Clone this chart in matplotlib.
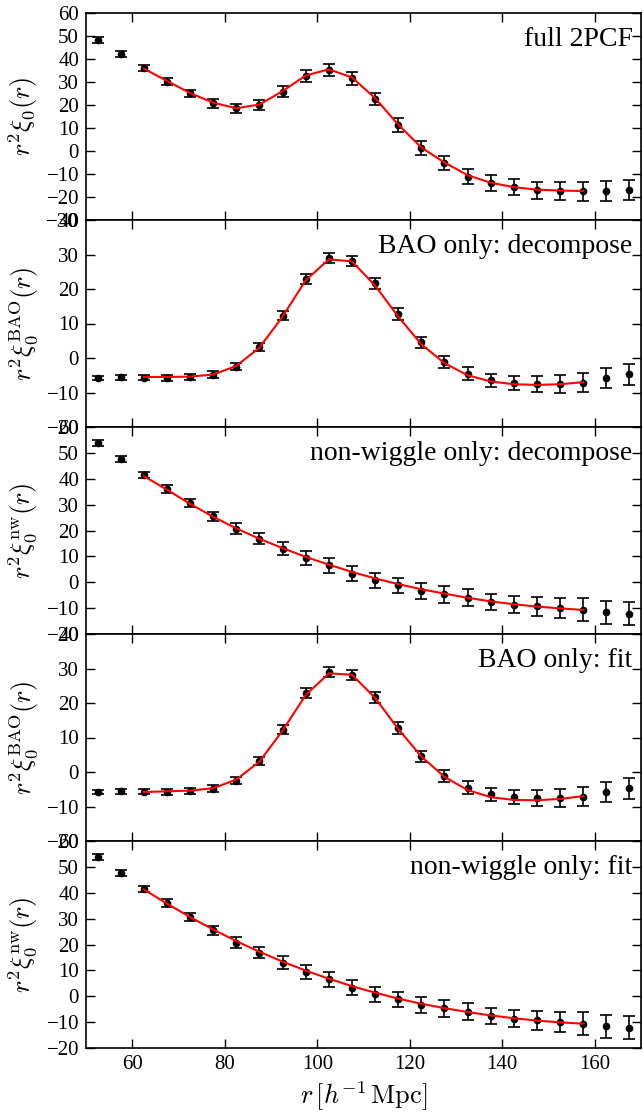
import matplotlib
matplotlib.use("Agg")
import matplotlib.pyplot as plt
from matplotlib.ticker import MultipleLocator

plt.rcParams['font.family'] = ['Liberation Serif', 'DejaVu Serif']
plt.rcParams['mathtext.fontset'] = 'cm'

# separation bins (h^-1 Mpc)
r_data = [52.5, 57.5, 62.5, 67.5, 72.5, 77.5, 82.5, 87.5, 92.5, 97.5, 102.5, 107.5,
          112.5, 117.5, 122.5, 127.5, 132.5, 137.5, 142.5, 147.5, 152.5, 157.5, 162.5, 167.5]
r_model = r_data[2:22]

# full 2PCF
full_data = [48.3, 42.0, 36.0, 30.1, 25.1, 20.7, 18.6, 20.0, 25.8, 32.6, 35.2, 31.6,
             22.6, 11.3, 1.2, -5.3, -11.2, -13.8, -15.8, -17.0, -17.4, -17.5, -17.3, -17.0]
full_err = [1.3, 1.3, 1.4, 1.5, 1.6, 1.8, 2.0, 2.1, 2.3, 2.5, 2.7, 2.7,
            2.8, 2.9, 3.0, 3.1, 3.2, 3.4, 3.5, 3.7, 3.9, 4.1, 4.3, 4.5]
full_model = [35.8, 30.5, 25.2, 21.0, 18.6, 20.2, 26.0, 32.8, 35.5, 32.0,
              23.0, 11.5, 1.5, -5.0, -10.5, -13.8, -15.7, -16.8, -17.2, -17.4]

# BAO part (same data in decompose and fit panels)
bao_data = [-5.8, -5.6, -5.7, -5.8, -5.6, -4.8, -2.5, 3.2, 12.3, 22.9, 28.9, 28.1,
            21.6, 12.8, 4.5, -1.1, -4.5, -6.4, -7.2, -7.5, -7.5, -7.2, -5.9, -4.7]
bao_err = [0.7, 0.7, 0.8, 0.8, 0.9, 1.0, 1.1, 1.2, 1.3, 1.4, 1.45, 1.5,
           1.6, 1.7, 1.7, 1.8, 1.9, 1.9, 2.1, 2.3, 2.5, 2.75, 2.9, 3.1]
bao_decomp = [-5.5, -5.5, -5.4, -4.8, -2.3, 3.0, 12.0, 22.5, 28.6, 28.0,
              21.0, 12.0, 4.0, -1.5, -5.0, -6.8, -7.6, -7.8, -7.6, -7.0]
bao_fit = [-5.8, -5.6, -5.4, -4.7, -2.2, 3.0, 12.0, 22.3, 28.6, 28.2,
           21.5, 12.5, 4.5, -1.4, -5.2, -7.3, -8.1, -8.2, -7.8, -7.0]

# non-wiggle part
nw_data = [53.9, 47.5, 41.4, 35.9, 30.7, 25.5, 20.7, 16.9, 13.0, 9.2, 6.5, 3.3,
           0.7, -1.2, -3.2, -4.7, -6.0, -7.7, -8.6, -9.3, -9.9, -10.6, -11.6, -12.2]
nw_err = [1.2, 1.2, 1.3, 1.5, 1.6, 1.8, 2.1, 2.3, 2.5, 2.7, 2.8, 2.9,
          3.0, 3.0, 3.1, 3.2, 3.2, 3.2, 3.4, 3.6, 3.9, 4.5, 4.5, 4.5]
nw_decomp = [41.0, 35.8, 30.3, 25.3, 20.8, 16.8, 13.2, 9.8, 6.8, 4.0,
             1.5, -0.7, -2.7, -4.4, -6.0, -7.4, -8.5, -9.4, -10.1, -10.7]
nw_fit = [41.3, 35.8, 30.6, 25.8, 21.3, 17.2, 13.4, 9.9, 6.8, 3.9,
          1.4, -0.9, -2.9, -4.6, -6.1, -7.4, -8.5, -9.4, -10.1, -10.6]

panels = [
    (full_data, full_err, full_model, r'$r^2\xi_0(r)$', 'full 2PCF', (-30, 60)),
    (bao_data, bao_err, bao_decomp, r'$r^2\xi_0^{\rm BAO}(r)$', 'BAO only: decompose', (-20, 40)),
    (nw_data, nw_err, nw_decomp, r'$r^2\xi_0^{\rm nw}(r)$', 'non-wiggle only: decompose', (-20, 60)),
    (bao_data, bao_err, bao_fit, r'$r^2\xi_0^{\rm BAO}(r)$', 'BAO only: fit', (-20, 40)),
    (nw_data, nw_err, nw_fit, r'$r^2\xi_0^{\rm nw}(r)$', 'non-wiggle only: fit', (-20, 60)),
]

W, H = 643, 1113
fig = plt.figure(figsize=(W / 100, H / 100), dpi=100)

left, right = 86, 641
top0, ph = 13, 207
axes = []
for i, (yd, ye, ym, ylab, name, ylim) in enumerate(panels):
    bottom_px = top0 + ph * (i + 1)
    ax = fig.add_axes([left / W, 1 - bottom_px / H, (right - left) / W, ph / H],
                      sharex=axes[0] if axes else None)
    axes.append(ax)
    ax.errorbar(r_data, yd, yerr=ye, fmt='o', color='black', ms=4.5,
                elinewidth=1.2, capsize=4, capthick=1.2, zorder=2)
    ax.plot(r_model, ym, color='red', lw=1.5, zorder=3)
    ax.set_ylim(*ylim)
    ax.set_xlim(50, 170)
    ax.yaxis.set_major_locator(MultipleLocator(10))
    ax.xaxis.set_major_locator(MultipleLocator(20))
    ax.set_ylabel(ylab, fontsize=19)
    ax.yaxis.set_label_coords(-0.083, 0.5)
    ax.text(0.985, 0.93, name, transform=ax.transAxes, ha='right', va='top', fontsize=20)
    ax.tick_params(direction='in', top=True, right=True, length=6.5, width=1, labelsize=15, pad=5)
    for s in ax.spines.values():
        s.set_linewidth(1.2)
    if i < len(panels) - 1:
        plt.setp(ax.get_xticklabels(), visible=False)

axes[-1].set_xlabel(r'$r\,[h^{-1}\,{\rm Mpc}]$', fontsize=19)

plt.savefig('out.png', dpi=100)
